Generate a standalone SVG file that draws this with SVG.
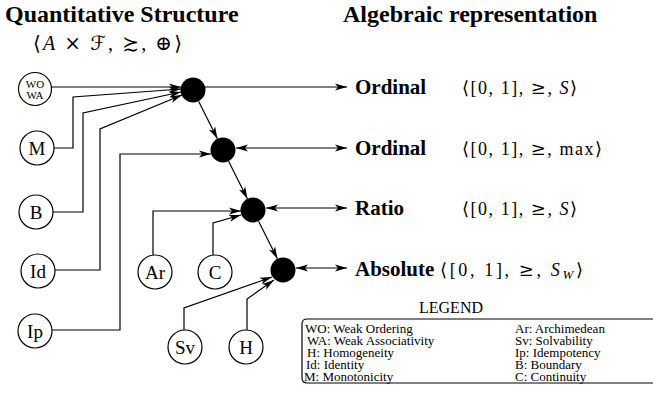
<svg xmlns="http://www.w3.org/2000/svg" width="653" height="410" viewBox="0 0 653 410">
  <style>
    .title { font-family: "Liberation Serif", "Times New Roman", serif; font-weight: bold; font-size: 24px; fill: #000; }
    .label { font-family: "Liberation Serif", "Times New Roman", serif; font-weight: bold; font-size: 21px; fill: #000; }
    .math { font-family: "Liberation Serif", "DejaVu Serif", serif; font-size: 18px; fill: #000; }
    .sym { font-family: "DejaVu Serif", "DejaVu Sans", serif; }
    .it { font-style: italic; }
    .prop { fill: #fff; stroke: #000; stroke-width: 1.2; }
    .prop-text { font-family: "Liberation Serif", "Times New Roman", serif; font-size: 19px; fill: #000; text-anchor: middle; }
    .small-text { font-family: "Liberation Serif", "Times New Roman", serif; font-size: 11px; fill: #000; text-anchor: middle; }
    .hub { fill: #000; stroke: none; }
    .edge { fill: none; stroke: #000; stroke-width: 1.2; }
    .legend-text { font-family: "Liberation Serif", "Times New Roman", serif; font-size: 13px; fill: #000; }
  </style>
  <defs>
    <marker id="arrow" viewBox="0 0 12 8" refX="12" refY="4" markerWidth="12" markerHeight="8" markerUnits="userSpaceOnUse" orient="auto-start-reverse">
      <path d="M0,0.5 L12,4 L0,7.5 L3,4 z" fill="#000"/>
    </marker>
  </defs>

  <rect width="653" height="410" fill="#fff"/>

  <!-- headings -->
  <text class="title" x="5" y="22">Quantitative Structure</text>
  <text class="title" x="343" y="22">Algebraic representation</text>
  <text class="math" x="33" y="50" style="font-size:20px" textLength="149" lengthAdjust="spacing"><tspan class="sym">⟨</tspan><tspan class="it">A</tspan> <tspan class="sym">×</tspan> <tspan class="sym it">ℱ</tspan>, <tspan class="sym">≿</tspan>, <tspan class="sym">⊕</tspan><tspan class="sym">⟩</tspan></text>

  <!-- connectors -->
  <g id="connectors">
    <line class="edge" x1="52" y1="87" x2="181" y2="87" marker-end="url(#arrow)"/>
    <polyline class="edge" points="54,148 73,148 73,97 181,89" marker-end="url(#arrow)"/>
    <polyline class="edge" points="53,212 83,212 83,113 181,92" marker-end="url(#arrow)"/>
    <polyline class="edge" points="55,270 100,270 100,129 182,95" marker-end="url(#arrow)"/>
    <polyline class="edge" points="52,330 120,330 120,154 211,154" marker-end="url(#arrow)"/>
    <polyline class="edge" points="153,255 153,211 241,211" marker-end="url(#arrow)"/>
    <polyline class="edge" points="213,255 213,223 241,215" marker-end="url(#arrow)"/>
    <polyline class="edge" points="184,330 184,308 272,277" marker-end="url(#arrow)"/>
    <polyline class="edge" points="247,330 247,299 274,280" marker-end="url(#arrow)"/>

    <line class="edge" x1="198.6" y1="101.2" x2="217.4" y2="138.8" marker-end="url(#arrow)"/>
    <line class="edge" x1="228.6" y1="161.2" x2="247.4" y2="198.8" marker-end="url(#arrow)"/>
    <line class="edge" x1="258.6" y1="221.2" x2="277.4" y2="258.8" marker-end="url(#arrow)"/>

    <line class="edge" x1="205" y1="87" x2="347" y2="87" marker-end="url(#arrow)"/>
    <line class="edge" x1="236" y1="148" x2="347" y2="148" marker-start="url(#arrow)" marker-end="url(#arrow)"/>
    <line class="edge" x1="266" y1="208" x2="347" y2="208" marker-start="url(#arrow)" marker-end="url(#arrow)"/>
    <line class="edge" x1="296" y1="268" x2="347" y2="268" marker-start="url(#arrow)" marker-end="url(#arrow)"/>
  </g>

  <!-- property nodes -->
  <g id="node-wowa"><circle class="prop" cx="35" cy="89" r="16.5"/><text class="small-text" x="35" y="87.5">WO</text><text class="small-text" x="35" y="98.5">WA</text></g>
  <g id="node-m"><circle class="prop" cx="37" cy="148" r="17"/><text class="prop-text" x="37" y="154.5">M</text></g>
  <g id="node-b"><circle class="prop" cx="36" cy="212" r="17"/><text class="prop-text" x="36" y="218.5">B</text></g>
  <g id="node-id"><circle class="prop" cx="38" cy="271" r="17"/><text class="prop-text" x="38" y="277.5">Id</text></g>
  <g id="node-ip"><circle class="prop" cx="35" cy="331" r="17"/><text class="prop-text" x="35" y="337.5">Ip</text></g>
  <g id="node-ar"><circle class="prop" cx="155" cy="272" r="17"/><text class="prop-text" x="155" y="278.5">Ar</text></g>
  <g id="node-c"><circle class="prop" cx="215" cy="272" r="17"/><text class="prop-text" x="215" y="278.5">C</text></g>
  <g id="node-sv"><circle class="prop" cx="185" cy="347" r="17"/><text class="prop-text" x="185" y="353.5">Sv</text></g>
  <g id="node-h"><circle class="prop" cx="246" cy="347" r="17"/><text class="prop-text" x="246" y="353.5">H</text></g>

  <!-- structure hubs -->
  <g id="hub-1"><circle class="hub" cx="193" cy="90" r="12.5"/></g>
  <g id="hub-2"><circle class="hub" cx="223" cy="150" r="12.5"/></g>
  <g id="hub-3"><circle class="hub" cx="253" cy="210" r="12.5"/></g>
  <g id="hub-4"><circle class="hub" cx="283" cy="270" r="12.5"/></g>

  <!-- scale types -->
  <g id="rep-ordinal-1">
    <text class="label" x="355" y="94">Ordinal</text>
    <text class="math" x="462" y="94" textLength="115" lengthAdjust="spacing"><tspan class="sym">⟨</tspan>[0, 1], <tspan class="sym">≥</tspan>, <tspan class="it">S</tspan><tspan class="sym">⟩</tspan></text>
  </g>
  <g id="rep-ordinal-2">
    <text class="label" x="355" y="155">Ordinal</text>
    <text class="math" x="462" y="155" textLength="140" lengthAdjust="spacing"><tspan class="sym">⟨</tspan>[0, 1], <tspan class="sym">≥</tspan>, max<tspan class="sym">⟩</tspan></text>
  </g>
  <g id="rep-ratio">
    <text class="label" x="355" y="215">Ratio</text>
    <text class="math" x="462" y="215" textLength="115" lengthAdjust="spacing"><tspan class="sym">⟨</tspan>[0, 1], <tspan class="sym">≥</tspan>, <tspan class="it">S</tspan><tspan class="sym">⟩</tspan></text>
  </g>
  <g id="rep-absolute">
    <text class="label" x="355" y="276">Absolute</text>
    <text class="math" x="440" y="276" textLength="143" lengthAdjust="spacing"><tspan class="sym">⟨</tspan>[0, 1], <tspan class="sym">≥</tspan>, <tspan class="it">S</tspan><tspan class="it" dy="3" font-size="13">W</tspan><tspan class="sym" dy="-3">⟩</tspan></text>
  </g>

  <!-- legend -->
  <g id="legend">
    <text class="legend-text" x="451" y="313" text-anchor="middle" style="font-size:16px">LEGEND</text>
    <path d="M653,319 L307,319 Q302,319 302,324 L302,378 Q302,383 307,383 L653,383" fill="none" stroke="#000" stroke-width="1.2"/>
    <text class="legend-text" x="305" y="333">WO: Weak Ordering</text>
    <text class="legend-text" x="307" y="345">WA: Weak Associativity</text>
    <text class="legend-text" x="307" y="357">H: Homogeneity</text>
    <text class="legend-text" x="306" y="369">Id: Identity</text>
    <text class="legend-text" x="304" y="381">M: Monotonicity</text>
    <text class="legend-text" x="515" y="333">Ar: Archimedean</text>
    <text class="legend-text" x="515" y="345">Sv: Solvability</text>
    <text class="legend-text" x="515" y="357">Ip: Idempotency</text>
    <text class="legend-text" x="515" y="369">B: Boundary</text>
    <text class="legend-text" x="515" y="381">C: Continuity</text>
  </g>
</svg>
